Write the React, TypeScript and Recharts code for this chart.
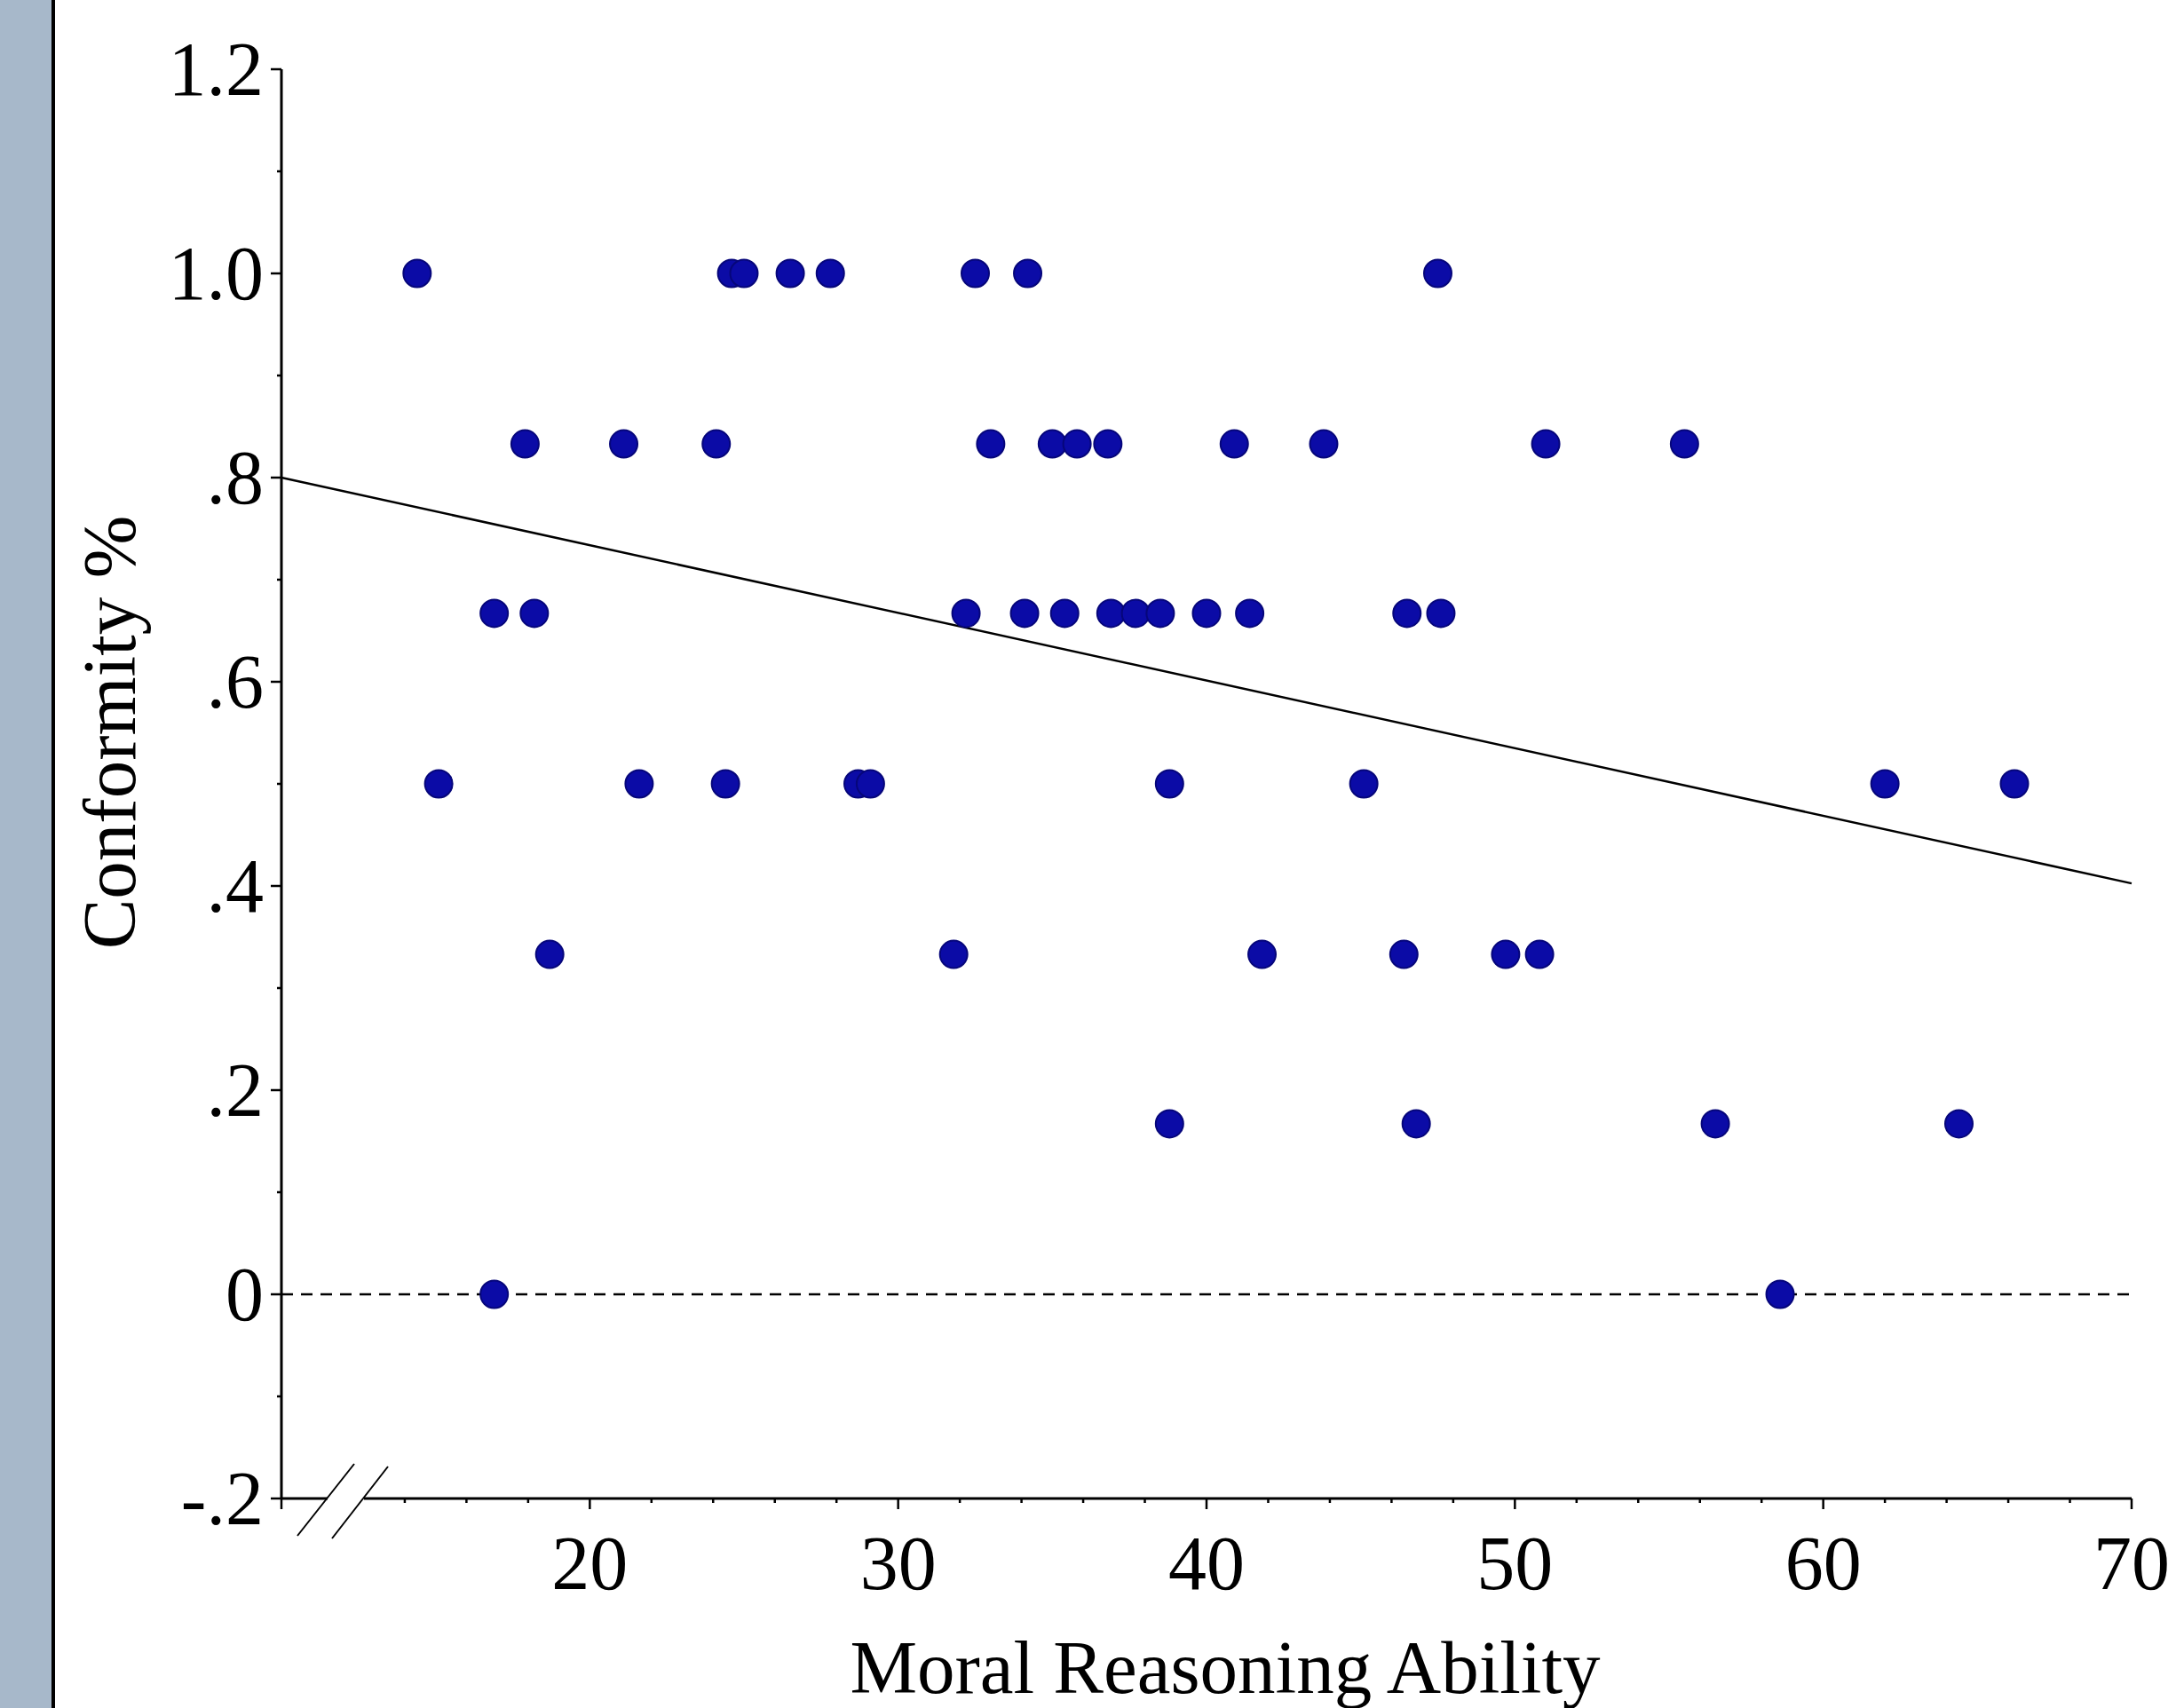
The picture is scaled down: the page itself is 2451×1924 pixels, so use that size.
import { Label, ReferenceLine, Scatter, ScatterChart, XAxis, YAxis } from "recharts";

const FONT = '"Liberation Serif", "Times New Roman", serif';

// Conformity levels (share of trials conformed) and the moral reasoning
// scores for each level.
const conformityLevels = [1.0, 0.833, 0.667, 0.5, 0.333, 0.167, 0];
const scoresAt100 = [14.4, 24.6, 25.0, 26.5, 27.8, 32.5, 34.2, 47.5];
const scoresAt83 = [17.9, 21.1, 24.1, 33.0, 35.0, 35.8, 36.8, 40.9, 43.8, 51.0, 55.5];
const scoresAt67 = [16.9, 18.2, 32.2, 34.1, 35.4, 36.9, 37.7, 38.5, 40.0, 41.4, 46.5, 47.6];
const scoresAt50 = [15.1, 21.6, 24.4, 28.7, 29.1, 38.8, 45.1, 62.0, 66.2];
const scoresAt33 = [18.7, 31.8, 41.8, 46.4, 49.7, 50.8];
const scoresAt17 = [38.8, 46.8, 56.5, 64.4];
const scoresAt0 = [16.9, 58.6];
const scoresByLevel = [scoresAt100, scoresAt83, scoresAt67, scoresAt50, scoresAt33, scoresAt17, scoresAt0];

// Fitted regression line, end points
const fitX = [10, 70];
const fitY = [0.8, 0.4025];

const xTicks = [10, 12, 14, 16, 18, 20, 22, 24, 26, 28, 30, 32, 34, 36, 38, 40, 42, 44, 46, 48, 50, 52, 54, 56, 58, 60, 62, 64, 66, 68, 70];
const xLabelValues = [20, 30, 40, 50, 60, 70];
const xTickLabels = ["20", "30", "40", "50", "60", "70"];

const yTicks = [-0.2, -0.1, 0, 0.1, 0.2, 0.3, 0.4, 0.5, 0.6, 0.7, 0.8, 0.9, 1.0, 1.1, 1.2];
const yLabelValues = [-0.2, 0, 0.2, 0.4, 0.6, 0.8, 1.0, 1.2];
const yTickLabels = ["-.2", "0", ".2", ".4", ".6", ".8", "1.0", "1.2"];

const points = scoresByLevel.flatMap((scores, i) =>
  scores.map((score) => ({ x: score, y: conformityLevels[i] }))
);

function XTick({ x, y, payload }: any) {
  const v = payload.value;
  const i = xLabelValues.indexOf(v);
  const major = v % 10 === 0;
  return (
    <g>
      <line x1={x} x2={x} y1={y} y2={y + (major ? 12 : 5)} stroke="#000" strokeWidth={2.5} />
      {i >= 0 && (
        <text x={x} y={y + 102} textAnchor="middle" fontSize={86} fontFamily={FONT} fill="#000">
          {xTickLabels[i]}
        </text>
      )}
    </g>
  );
}

function YTick({ x, y, payload }: any) {
  const v = payload.value;
  const i = yLabelValues.findIndex((t) => Math.abs(t - v) < 1e-6);
  const major = i >= 0;
  return (
    <g>
      <line x1={x} x2={x - (major ? 12 : 5)} y1={y} y2={y} stroke="#000" strokeWidth={2.5} />
      {major && (
        <text x={x - 20} y={y + 29} textAnchor="end" fontSize={86} fontFamily={FONT} fill="#000">
          {yTickLabels[i]}
        </text>
      )}
    </g>
  );
}

function YTitle({ viewBox }: any) {
  const cx = viewBox.x + 152;
  const cy = viewBox.y + viewBox.height / 2 - 58;
  return (
    <text
      x={cx}
      y={cy}
      transform={`rotate(-90, ${cx}, ${cy})`}
      textAnchor="middle"
      fontSize={85}
      fontFamily={FONT}
      fill="#000"
    >
      Conformity %
    </text>
  );
}

function XTitle({ viewBox }: any) {
  const cx = viewBox.x + viewBox.width / 2 + 21;
  return (
    <text x={cx} y={viewBox.y + 219} textAnchor="middle" fontSize={85} fontFamily={FONT} fill="#000">
      Moral Reasoning Ability
    </text>
  );
}

function Dot(props: any) {
  return <circle cx={props.cx} cy={props.cy} r={15.5} fill="#0b0ba6" stroke="#06067a" strokeWidth={2} />;
}

export default function App() {
  return (
    <div
      style={{
        position: "absolute",
        left: 0,
        top: 0,
        width: 2451,
        height: 1924,
        background: "#fff",
        overflow: "hidden",
      }}
    >
      <ScatterChart width={2451} height={1924} margin={{ top: 78, right: 50, bottom: 0, left: 0 }}>
        <XAxis
          type="number"
          dataKey="x"
          domain={[10, 70]}
          ticks={xTicks}
          interval={0}
          allowDataOverflow
          height={236}
          tickSize={0}
          tickMargin={0}
          tickLine={false}
          tick={<XTick />}
          axisLine={{ stroke: "#000", strokeWidth: 3 }}
        >
          <Label content={<XTitle />} />
        </XAxis>
        <YAxis
          type="number"
          dataKey="y"
          domain={[-0.2, 1.2]}
          ticks={yTicks}
          interval={0}
          allowDataOverflow
          width={317}
          tickSize={0}
          tickMargin={0}
          tickLine={false}
          tick={<YTick />}
          axisLine={{ stroke: "#000", strokeWidth: 3 }}
        >
          <Label content={<YTitle />} />
        </YAxis>
        <ReferenceLine y={0} stroke="#000" strokeWidth={2.5} strokeDasharray="13 9" />
        <ReferenceLine
          segment={[
            { x: fitX[0], y: fitY[0] },
            { x: fitX[1], y: fitY[1] },
          ]}
          stroke="#000"
          strokeWidth={2.5}
        />
        <Scatter data={points} shape={<Dot />} isAnimationActive={false} />
      </ScatterChart>

      {/* left page strip */}
      <div style={{ position: "absolute", left: 0, top: 0, width: 58, height: 1924, background: "#a7b8ca" }} />
      <div style={{ position: "absolute", left: 58, top: 0, width: 4, height: 1924, background: "#000" }} />

      {/* axis break marks */}
      <svg
        width={2451}
        height={1924}
        style={{ position: "absolute", left: 0, top: 0, pointerEvents: "none" }}
      >
        <rect x={369} y={1683} width={41} height={14} fill="#fff" />
        <line x1={335} y1={1730} x2={399} y2={1649} stroke="#000" strokeWidth={2} />
        <line x1={374} y1={1733} x2={437} y2={1652} stroke="#000" strokeWidth={2} />
      </svg>
    </div>
  );
}
